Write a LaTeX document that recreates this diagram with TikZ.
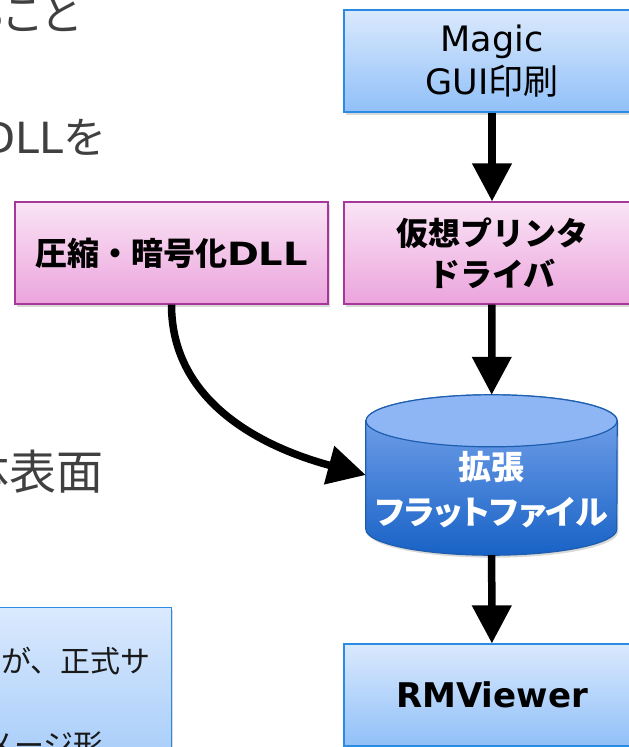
\documentclass[tikz,border=0pt]{standalone}
\usepackage{fontspec}
\setmainfont{DejaVu Sans}
\newfontfamily\jp{Noto Sans CJK JP}
\usepackage{xcolor}
\definecolor{BlueTop}{HTML}{DAE9FD}
\definecolor{BlueBot}{HTML}{90C0F8}
\definecolor{BlueLine}{HTML}{2B8BE3}
\definecolor{PinkTop}{HTML}{FAE4F5}
\definecolor{PinkBot}{HTML}{EBA4DD}
\definecolor{PinkLine}{HTML}{A8379A}
\definecolor{CylTop}{HTML}{8EB6F4}
\definecolor{CylMid}{HTML}{7DA8EE}
\definecolor{CylBot}{HTML}{1862C6}
\definecolor{CylLine}{HTML}{1D5EAE}
\definecolor{TextGray}{HTML}{404040}
\usepackage{tikz}
\usetikzlibrary{arrows.meta, shadows}
\newcommand\flowfont{\fontsize{35}{43}\selectfont}
\newcommand\flowbold{\fontsize{32}{41}\selectfont\bfseries}
\tikzset{
  box/.style={
    rectangle, minimum width=#1, minimum height=102pt,
    inner sep=0pt, align=center, line width=1.2pt,
    drop shadow={opacity=0.3, shadow xshift=1.5pt, shadow yshift=-2.5pt}
  },
  box/.default=296pt,
  bluebox/.style={box=#1, top color=BlueTop, bottom color=BlueBot, draw=BlueLine},
  bluebox/.default=296pt,
  pinkbox/.style={box=#1, top color=PinkTop, bottom color=PinkBot, draw=PinkLine},
  pinkbox/.default=296pt,
  cylbody/.style={top color=CylMid, bottom color=CylBot, draw=CylLine, line width=1.2pt,
    drop shadow={opacity=0.3, shadow xshift=1.5pt, shadow yshift=-2.5pt}},
  cyltop/.style={fill=CylTop, draw=CylLine, line width=1.2pt},
  bodytext/.style={inner sep=0pt, text=TextGray, font=\fontsize{43}{50}\selectfont},
  notetext/.style={inner sep=0pt, text=black!90, font=\jp\fontsize{30}{35}\selectfont},
  arr/.style={-{Triangle[length=38pt, width=38pt]}, line width=7.5pt, color=black},
}
\begin{document}
\begin{tikzpicture}[x=1pt, y=1pt]
\useasboundingbox (0,0) rectangle (629,-747);
\clip (0,0) rectangle (629,-747);

% slide text cut off at the left edge
\node[bodytext, anchor=east] at (80,-15) (t1) {\jp\addfontfeature{RawFeature=+palt}ること};
\node[bodytext, anchor=east] at (107,-137) (t2) {DLL{\jp を}};
\node[bodytext, font=\fontsize{47}{50}\selectfont, anchor=east] at (104,-472) (t3) {\jp 体表面};
\node[bluebox=192pt, minimum height=223pt, anchor=north east] at (172,-607) (note) {};
\node[notetext, anchor=west] at (1,-661) (n1) {が、正式サ};
\node[notetext, anchor=west] at (-16,-745) (n2) {メージ形};

\node[bluebox, font=\flowfont] at (492,-61) (magic) {Magic\\GUI{\jp 印刷}};
\node[pinkbox, font=\flowbold] at (492,-253) (vp) {{\jp 仮想プリンタ}\\{\jp ドライバ}};
\node[pinkbox=313pt, font=\flowbold] at (171.5,-253) (cmp)
  {{\jp 圧縮・暗号化}{\addfontfeature{FakeStretch=1.2}DLL}};

% flat file cylinder
\node[minimum width=251pt, minimum height=160pt, inner sep=0pt] at (491.5,-475) (cyl) {};
\draw[cylbody] ([yshift=-26pt]cyl.north west) -- ([yshift=26pt]cyl.south west)
  arc[start angle=180, end angle=360, x radius=125.5pt, y radius=26pt]
  -- ([yshift=-26pt]cyl.north east)
  arc[start angle=0, end angle=180, x radius=125.5pt, y radius=26pt] -- cycle;
\draw[cyltop] ([yshift=-26pt]cyl.north) ellipse[x radius=125.5pt, y radius=26pt];
\node[align=center, text=white, font=\flowbold\jp\fontsize{33}{45}\selectfont] at (491.5,-490) (cyltxt)
  {拡張\\{\addfontfeature{RawFeature=+palt}フラットファイル}};

\node[bluebox, font=\flowbold\fontsize{34}{41}\selectfont] at (492,-695) (rmv) {RMViewer};

\draw[arr] (magic) -- (vp);
\draw[arr] (vp) -- (cyl);
\draw[arr] (cyl) -- (rmv);
\draw[arr] (cmp.south) to[out=-90, in=165] (cyl.west);

\end{tikzpicture}
\end{document}
